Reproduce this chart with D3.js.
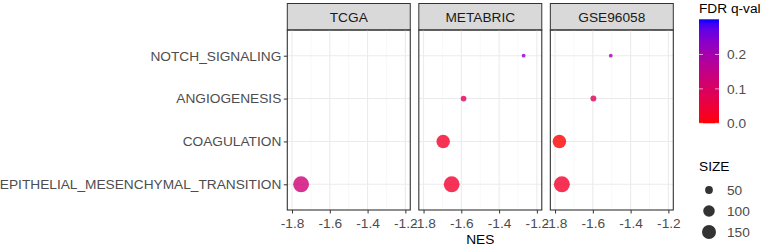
<!DOCTYPE html>
<html>
<head>
<meta charset="utf-8">
<script src="https://cdn.jsdelivr.net/npm/d3@7"></script>
<style>
  body { margin: 0; background: #fff; }
  svg { display: block; font-family: "Liberation Sans", Arial, sans-serif; }
</style>
</head>
<body>
<div id="chart"></div>
<script>
const datasets = ["TCGA", "METABRIC", "GSE96058"];
const pathways = ["NOTCH_SIGNALING", "ANGIOGENESIS", "COAGULATION", "EPITHELIAL_MESENCHYMAL_TRANSITION"];

// one row per point: dataset, pathway, NES, FDR q-val, SIZE
const pointDataset = ["TCGA", "METABRIC", "METABRIC", "METABRIC", "METABRIC", "GSE96058", "GSE96058", "GSE96058", "GSE96058"];
const pointPathway = ["EPITHELIAL_MESENCHYMAL_TRANSITION",
  "NOTCH_SIGNALING", "ANGIOGENESIS", "COAGULATION", "EPITHELIAL_MESENCHYMAL_TRANSITION",
  "NOTCH_SIGNALING", "ANGIOGENESIS", "COAGULATION", "EPITHELIAL_MESENCHYMAL_TRANSITION"];
const pointNES = [-1.752, -1.27, -1.588, -1.696, -1.651, -1.505, -1.597, -1.777, -1.764];
const pointFDR = [0.125, 0.235, 0.09, 0.03, 0.035, 0.2, 0.085, 0.0, 0.03];
const pointSize = [197, 32, 36, 137, 196, 32, 37, 138, 200];

const fdrLimits = [0, 0.302];
const nesTicks = [-1.8, -1.6, -1.4, -1.2];
const nesMinor = [-1.7, -1.5, -1.3];
const fdrTicks = [0.0, 0.1, 0.2];
const sizeBreaks = [50, 100, 150];

const points = pointNES.map((v, i) => ({
  dataset: pointDataset[i], pathway: pointPathway[i],
  nes: v, fdr: pointFDR[i], size: pointSize[i]
}));

const W = 763, H = 247;
const panelTop = 30, panelBottom = 210;
const stripTop = 3.5;
const fs = "13.7px";

const svg = d3.select("#chart").append("svg")
  .attr("width", W).attr("height", H);

const panel = d3.scaleBand()
  .domain(datasets)
  .range([287.3, 673.3])
  .paddingInner(0.065);
const pw = panel.bandwidth();

const x = d3.scaleLinear().domain([-1.825, -1.174]).range([0, pw]);
const y = d3.scalePoint().domain(pathways).range([panelTop, panelBottom]).padding(0.6);

const color = d3.scaleLinear().domain(fdrLimits).range(["red", "blue"]).interpolate(d3.interpolateLab);

const sizeMin = d3.min(pointSize), sizeMax = d3.max(pointSize);
const rad = s => 1.9 + 6.1 * Math.sqrt((s - sizeMin) / (sizeMax - sizeMin));

// y axis labels
const yAxis = svg.append("g")
  .attr("transform", `translate(${panel(datasets[0])},0)`)
  .call(d3.axisLeft(y).tickSize(3.5).tickPadding(2.5));
yAxis.select(".domain").remove();
yAxis.selectAll("line").attr("stroke", "#333").attr("stroke-width", 1);
yAxis.selectAll("text")
  .attr("fill", "#4D4D4D")
  .style("font-size", fs)
  .style("font-family", "Liberation Sans, Arial, sans-serif");

datasets.forEach(ds => {
  const g = svg.append("g").attr("transform", `translate(${panel(ds)},0)`);

  // strip
  g.append("rect")
    .attr("x", 0).attr("y", stripTop)
    .attr("width", pw).attr("height", panelTop - stripTop)
    .attr("fill", "#D9D9D9").attr("stroke", "#333").attr("stroke-width", 1);
  g.append("text")
    .attr("x", pw / 2).attr("y", (stripTop + panelTop) / 2 + 4.8)
    .attr("text-anchor", "middle")
    .attr("fill", "#1A1A1A")
    .style("font-size", fs)
    .text(ds);

  // grid
  g.selectAll(".minor").data(nesMinor).enter().append("line")
    .attr("x1", d => x(d)).attr("x2", d => x(d))
    .attr("y1", panelTop).attr("y2", panelBottom)
    .attr("stroke", "#F4F4F4").attr("stroke-width", 0.6);
  g.selectAll(".vmajor").data(nesTicks).enter().append("line")
    .attr("x1", d => x(d)).attr("x2", d => x(d))
    .attr("y1", panelTop).attr("y2", panelBottom)
    .attr("stroke", "#EBEBEB").attr("stroke-width", 1.1);
  g.selectAll(".hmajor").data(pathways).enter().append("line")
    .attr("x1", 0).attr("x2", pw)
    .attr("y1", d => y(d)).attr("y2", d => y(d))
    .attr("stroke", "#EBEBEB").attr("stroke-width", 1.1);

  // points
  g.selectAll(".pt").data(points.filter(p => p.dataset === ds)).enter().append("circle")
    .attr("cx", d => x(d.nes))
    .attr("cy", d => y(d.pathway))
    .attr("r", d => rad(d.size))
    .attr("fill", d => color(d.fdr))
    .attr("fill-opacity", 0.8);

  // panel border
  g.append("rect")
    .attr("x", 0).attr("y", panelTop)
    .attr("width", pw).attr("height", panelBottom - panelTop)
    .attr("fill", "none").attr("stroke", "#333").attr("stroke-width", 1.1);

  // x axis
  const xa = g.append("g")
    .attr("transform", `translate(0,${panelBottom})`)
    .call(d3.axisBottom(x).tickValues(nesTicks).tickFormat(d => d.toFixed(1)).tickSize(3.5).tickPadding(5));
  xa.select(".domain").remove();
  xa.selectAll("line").attr("stroke", "#333");
  xa.selectAll("text")
    .attr("fill", "#4D4D4D")
    .style("font-size", fs)
    .style("font-family", "Liberation Sans, Arial, sans-serif");
});

svg.append("text")
  .attr("x", (panel.range()[0] + panel.range()[1]) / 2)
  .attr("y", 244)
  .attr("text-anchor", "middle")
  .attr("fill", "#000")
  .style("font-size", fs)
  .text("NES");

// colour legend
const legX = 699, barW = 20;
const barTop = 19.3, barBottom = 123.3;
svg.append("text")
  .attr("x", legX).attr("y", 13)
  .attr("fill", "#000")
  .style("font-size", fs)
  .text("FDR q-val");

const grad = svg.append("defs").append("linearGradient")
  .attr("id", "fdrGrad").attr("x1", 0).attr("y1", 1).attr("x2", 0).attr("y2", 0);
d3.range(0, 1.0001, 0.05).forEach(t => {
  grad.append("stop").attr("offset", t).attr("stop-color", color(fdrLimits[0] + t * (fdrLimits[1] - fdrLimits[0])));
});
const cy = d3.scaleLinear().domain(fdrLimits).range([barBottom, barTop]);
svg.append("rect")
  .attr("x", legX).attr("y", barTop)
  .attr("width", barW).attr("height", barBottom - barTop)
  .attr("fill", "url(#fdrGrad)");
fdrTicks.forEach(t => {
  [[legX, legX + 4], [legX + barW - 4, legX + barW]].forEach(([a, b]) => {
    svg.append("line")
      .attr("x1", a).attr("x2", b)
      .attr("y1", cy(t)).attr("y2", cy(t))
      .attr("stroke", "#fff").attr("stroke-opacity", 0.8).attr("stroke-width", 0.8);
  });
  svg.append("text")
    .attr("x", 727).attr("y", cy(t) + 4.8)
    .attr("fill", "#4D4D4D")
    .style("font-size", fs)
    .text(t.toFixed(1));
});

// size legend
svg.append("text")
  .attr("x", legX).attr("y", 171)
  .attr("fill", "#000")
  .style("font-size", fs)
  .text("SIZE");
const sy = d3.scalePoint().domain(sizeBreaks).range([190, 232]);
sizeBreaks.forEach(s => {
  svg.append("circle")
    .attr("cx", 709).attr("cy", sy(s))
    .attr("r", rad(s))
    .attr("fill", "#000").attr("fill-opacity", 0.8);
  svg.append("text")
    .attr("x", 727).attr("y", sy(s) + 4.8)
    .attr("fill", "#4D4D4D")
    .style("font-size", fs)
    .text(s);
});
</script>
</body>
</html>
